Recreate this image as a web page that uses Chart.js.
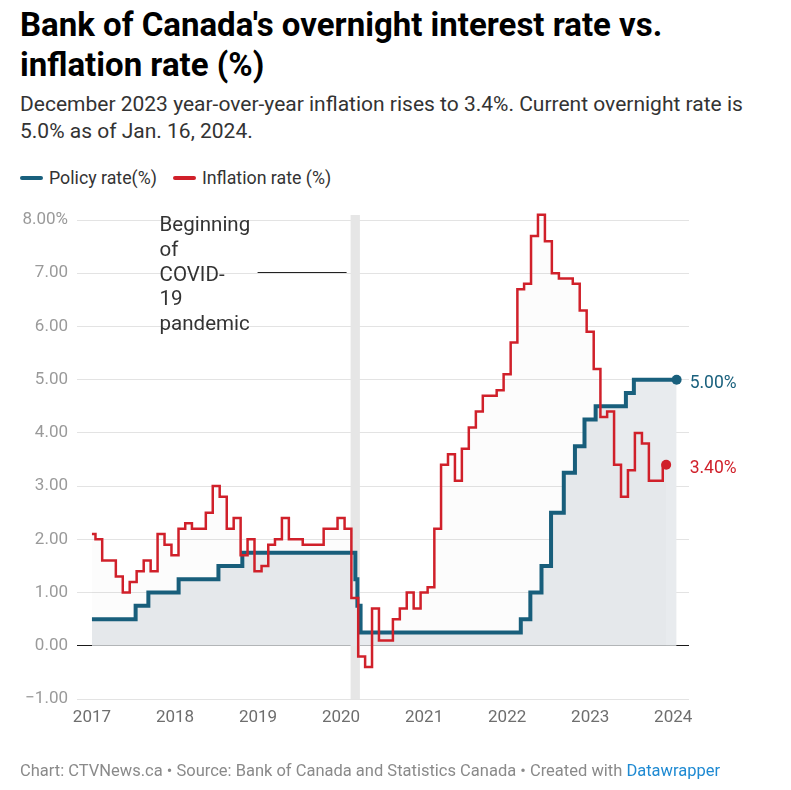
<!DOCTYPE html>
<html><head><meta charset="utf-8">
<script src="https://cdn.jsdelivr.net/npm/chart.js@4/dist/chart.umd.min.js"></script>
<style>
html,body{margin:0;padding:0;background:#fff;}
body{width:791px;height:790px;position:relative;overflow:hidden;font-family:Roboto,"Noto Sans",sans-serif;}
#title{position:absolute;left:20px;top:5px;font-size:33px;font-weight:700;line-height:39.5px;color:#000;width:750px;}
#subtitle{position:absolute;left:20px;top:91px;font-size:21px;line-height:26.5px;color:#333;width:765px;}
#legend{position:absolute;left:20px;top:168px;font-size:17.8px;line-height:20px;color:#333;display:flex;align-items:center;}
.sw{display:inline-block;width:23px;height:4px;border-radius:2px;margin-right:6px;}
.item{display:flex;align-items:center;margin-right:16px;}
#footer{position:absolute;left:20px;top:761px;font-size:16.5px;line-height:20px;color:#8a8a8a;white-space:nowrap;}
#footer a{color:#1f8ad2;text-decoration:none;}
canvas{position:absolute;left:0;top:0;}
</style>
</head><body>
<div id="title">Bank of Canada's overnight interest rate vs. inflation rate (%)</div>
<div id="subtitle">December 2023 year-over-year inflation rises to 3.4%. Current overnight rate is 5.0% as of Jan. 16, 2024.</div>
<div id="legend">
  <span class="item"><span class="sw" style="background:#19607d"></span>Policy rate(%)</span>
  <span class="item"><span class="sw" style="background:#d0202a"></span>Inflation rate (%)</span>
</div>
<canvas id="c" width="791" height="790"></canvas>
<div id="footer">Chart: CTVNews.ca • Source: Bank of Canada and Statistics Canada • Created with <a>Datawrapper</a></div>
<script>
// ---------- DATA ----------
const yearTicks = [2017, 2018, 2019, 2020, 2021, 2022, 2023, 2024];
const yTicks = [-1, 0, 1, 2, 3, 4, 5, 6, 7, 8];

// Policy (overnight) rate: effective date of each change, and the rate (%)
const policyDates = ['2017-01-01','2017-07-12','2017-09-06','2018-01-17','2018-07-11','2018-10-24',
  '2020-03-04','2020-03-13','2020-03-27','2022-03-02','2022-04-13','2022-06-01','2022-07-13',
  '2022-09-07','2022-10-26','2022-12-07','2023-01-25','2023-06-07','2023-07-12','2024-01-16'];
const policyRate = [0.50,0.75,1.00,1.25,1.50,1.75,
  1.25,0.75,0.25,0.50,1.00,1.50,2.50,
  3.25,3.75,4.25,4.50,4.75,5.00,5.00];

// Inflation rate (CPI, y/y %), monthly Jan 2017 .. Dec 2023
const inflationYears = [2017, 2018, 2019, 2020, 2021, 2022, 2023];
const inflation2017 = [2.1,2.0,1.6,1.6,1.3,1.0,1.2,1.4,1.6,1.4,2.1,1.9];
const inflation2018 = [1.7,2.2,2.3,2.2,2.2,2.5,3.0,2.8,2.2,2.4,1.7,2.0];
const inflation2019 = [1.4,1.5,1.9,2.0,2.4,2.0,2.0,1.9,1.9,1.9,2.2,2.2];
const inflation2020 = [2.4,2.2,0.9,-0.2,-0.4,0.7,0.1,0.1,0.5,0.7,1.0,0.7];
const inflation2021 = [1.0,1.1,2.2,3.4,3.6,3.1,3.7,4.1,4.4,4.7,4.7,4.8];
const inflation2022 = [5.1,5.7,6.7,6.8,7.7,8.1,7.6,7.0,6.9,6.9,6.8,6.3];
const inflation2023 = [5.9,5.2,4.3,4.4,3.4,2.8,3.3,4.0,3.8,3.1,3.1,3.4];

// COVID annotation range
const covidStart = '2020-02-12';
const covidEnd = '2020-03-24';
const annotationLines = ['Beginning', 'of', 'COVID-', '19', 'pandemic'];

// ---------- HELPERS ----------
function toYear(s){
  const [Y,M,D] = s.split('-').map(Number);
  const start = Date.UTC(Y,0,1), end = Date.UTC(Y+1,0,1);
  return Y + (Date.UTC(Y,M-1,D) - start)/(end - start);
}
const inflationValues = [inflation2017, inflation2018, inflation2019, inflation2020, inflation2021, inflation2022, inflation2023];
const inflationPoints = [];
inflationYears.forEach((yr, i) => {
  inflationValues[i].forEach((v, m) => {
    const mm = String(m+1).padStart(2,'0');
    inflationPoints.push({x: toYear(yr + '-' + mm + '-01'), y: v});
  });
});
const policyPoints = policyDates.map((d,i) => ({x: toYear(d), y: policyRate[i]}));

const BLUE = '#19607d', RED = '#d0202a';
const lastRadius = c => c.dataIndex === c.dataset.data.length - 1 ? 5 : 0;

const overlay = {
  id: 'overlay',
  beforeDatasetsDraw(chart){
    const {ctx, chartArea: a, scales: {x}} = chart;
    const x0 = x.getPixelForValue(toYear(covidStart));
    const x1 = x.getPixelForValue(toYear(covidEnd));
    ctx.save();
    ctx.fillStyle = '#e6e6e6';
    ctx.fillRect(x0, a.top - 5, x1 - x0, a.bottom - a.top + 5);
    ctx.restore();
  },
  afterDatasetsDraw(chart){
    const {ctx, chartArea: a, scales: {x, y}} = chart;
    const x0 = x.getPixelForValue(toYear(covidStart));
    ctx.save();
    // annotation text
    ctx.font = '20.5px Roboto';
    ctx.fillStyle = '#333';
    ctx.textBaseline = 'middle';
    ctx.textAlign = 'left';
    const tx = x0 - 191;
    annotationLines.forEach((t, i) => ctx.fillText(t, tx, a.top + 6 + i * 24.7));
    // connector
    ctx.strokeStyle = '#222';
    ctx.lineWidth = 1.2;
    const ly = Math.round(y.getPixelForValue(7.0)) - 0.5;
    ctx.beginPath(); ctx.moveTo(tx + 98, ly); ctx.lineTo(x0 - 4, ly); ctx.stroke();
    // end labels
    ctx.font = '17.5px Roboto';
    const pm = chart.getDatasetMeta(1).data, im = chart.getDatasetMeta(0).data;
    const pl = pm[pm.length-1], il = im[im.length-1];
    const lx = Math.max(pl.x, il.x) + 13;
    ctx.fillStyle = BLUE;
    ctx.fillText(policyRate[policyRate.length-1].toFixed(2) + '%', lx, pl.y + 4);
    ctx.fillStyle = RED;
    ctx.fillText(inflation2023[inflation2023.length-1].toFixed(2) + '%', lx, il.y + 4);
    ctx.restore();
  }
};

// x range: data span 2017..2024 with a small margin on each side
const X_MIN = 2016.82, X_MAX = 2024.19;

new Chart(document.getElementById('c'), {
  type: 'line',
  data: {
    datasets: [
      {
        label: 'Inflation rate (%)',
        data: inflationPoints,
        stepped: 'middle',
        clip: false,
        borderColor: RED,
        borderWidth: 2.5,
        backgroundColor: 'rgba(0,0,0,0.012)',
        fill: 'origin',
        pointRadius: lastRadius,
        pointBackgroundColor: RED,
        pointBorderWidth: 0,
        pointHoverRadius: 0
      },
      {
        label: 'Policy rate(%)',
        data: policyPoints,
        stepped: 'before',
        clip: false,
        borderColor: BLUE,
        borderWidth: 4,
        borderJoinStyle: 'miter',
        backgroundColor: '#e8ebee',
        fill: 'origin',
        pointRadius: lastRadius,
        pointBackgroundColor: BLUE,
        pointBorderWidth: 0,
        pointHoverRadius: 0
      }
    ]
  },
  options: {
    responsive: false,
    animation: false,
    devicePixelRatio: 1,
    events: [],
    layout: { padding: { left: 0, right: 102, top: 220, bottom: 61 } },
    plugins: { legend: { display: false }, tooltip: { enabled: false }, title: { display: false } },
    scales: {
      x: {
        type: 'linear',
        min: X_MIN, max: X_MAX,
        afterBuildTicks: s => { s.ticks = yearTicks.map(v => ({value: v})); },
        afterFit: s => { s.height = 30; },
        ticks: {
          callback: v => String(v),
          color: '#6e6e6e',
          font: { family: 'Roboto', size: 17 },
          padding: 9,
          maxRotation: 0,
          autoSkip: false
        },
        grid: { display: false, drawTicks: false },
        border: { display: false }
      },
      y: {
        min: -1, max: 8,
        afterBuildTicks: s => { s.ticks = yTicks.map(v => ({value: v})); },
        afterFit: s => { s.width = 77; },
        ticks: {
          callback: v => (v === 8 ? '8.00%' : (v < 0 ? '\u2212' : '') + Math.abs(v).toFixed(2)),
          color: '#9a9a9a',
          font: { family: 'Roboto', size: 17 },
          padding: 9
        },
        grid: {
          color: c => (c.tick && c.tick.value === 0) ? '#1a1a1a' : '#e3e3e3',
          lineWidth: 1,
          drawTicks: false
        },
        border: { display: false }
      }
    }
  },
  plugins: [overlay]
});
</script>
</body></html>
